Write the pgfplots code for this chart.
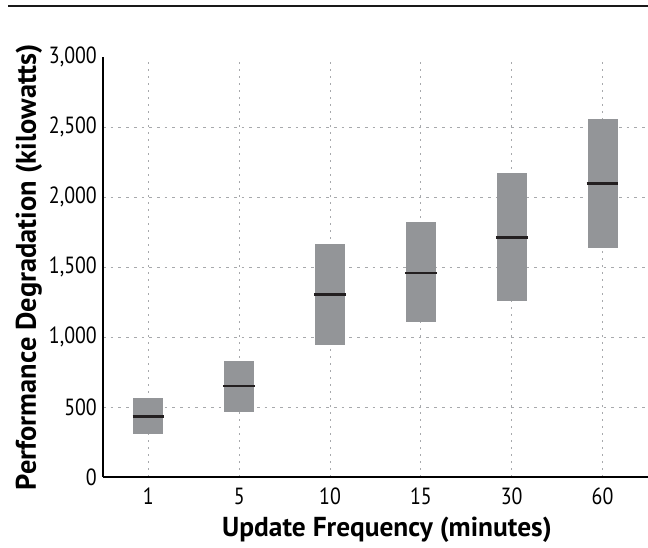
\documentclass[border=0pt]{standalone}
\usepackage{fontspec}
\setmainfont{PT Sans}
\newfontfamily\tickfont[FakeStretch=0.85]{PT Sans}
\usepackage{pgfplots}
\pgfplotsset{compat=1.18}

\definecolor{boxgray}{HTML}{939598}
\definecolor{medline}{HTML}{231F20}
\definecolor{gridc}{HTML}{A7A9AC}

\begin{document}
\begin{tikzpicture}
\begin{axis}[
  at={(103bp,71bp)}, anchor=south west,
  scale only axis, width=545bp, height=420bp,
  xmin=-0.5, xmax=5.5, ymin=0, ymax=3000,
  axis lines=left, axis line style={-, line width=2bp, black},
  major tick length=0pt,
  xtick={0,...,5}, xticklabels={1,5,10,15,30,60},
  ytick={0,500,...,2500},
  yticklabels={0,500,1{,}000,1{,}500,2{,}000,2{,}500},
  extra y ticks={3000}, extra y tick labels={3{,}000},
  extra y tick style={grid=none},
  grid=major,
  x grid style={gridc, line width=0.9bp, dash pattern=on 1.6bp off 5.4bp},
  y grid style={gridc, line width=0.9bp, dash pattern=on 2.7bp off 5bp},
  tick label style={font=\tickfont\fontsize{23.5}{26}\selectfont},
  xticklabel style={anchor=base, yshift=-27bp},
  yticklabel style={anchor=east, inner sep=0pt, xshift=-6bp},
  xlabel={Update Frequency (minutes)},
  ylabel={Performance Degradation (kilowatts)},
  xlabel style={font=\fontsize{27.5}{31}\selectfont\bfseries,
    at={(rel axis cs:0.521,-0.1405)}, anchor=base},
  ylabel style={font=\fontsize{28.5}{32}\selectfont\bfseries,
    at={(rel axis cs:-0.123,0.5)}, anchor=base},
  box/.style={fill=boxgray, draw=none},
  med/.style={draw=medline, line width=2.7bp},
]
% boxes: lower and upper quartile, half width 0.165
\addplot[box] coordinates {(-0.165,304) (0.165,304) (0.165,564) (-0.165,564)} -- cycle;
\addplot[box] coordinates {(0.835,467) (1.165,467) (1.165,830) (0.835,830)} -- cycle;
\addplot[box] coordinates {(1.835,942) (2.165,942) (2.165,1663) (1.835,1663)} -- cycle;
\addplot[box] coordinates {(2.835,1106) (3.165,1106) (3.165,1819) (2.835,1819)} -- cycle;
\addplot[box] coordinates {(3.835,1255) (4.165,1255) (4.165,2171) (3.835,2171)} -- cycle;
\addplot[box] coordinates {(4.835,1636) (5.165,1636) (5.165,2554) (4.835,2554)} -- cycle;
% medians
\addplot[med] coordinates {(-0.175,432) (0.175,432)};
\addplot[med] coordinates {(0.825,649) (1.175,649)};
\addplot[med] coordinates {(1.825,1302) (2.175,1302)};
\addplot[med] coordinates {(2.825,1458) (3.175,1458)};
\addplot[med] coordinates {(3.825,1713) (4.175,1713)};
\addplot[med] coordinates {(4.825,2097) (5.175,2097)};
\end{axis}
% top rule of the figure
\draw[line width=2.3bp, gray!20!black] (8bp,542bp) -- (648bp,542bp);
\pgfresetboundingbox
\path (0,0) rectangle (648bp,548bp);
\end{tikzpicture}
\end{document}
